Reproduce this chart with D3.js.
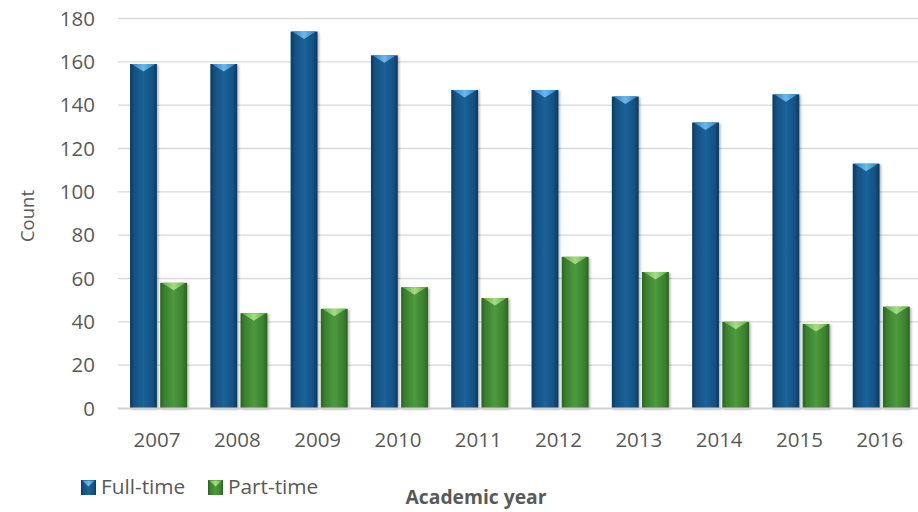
<!DOCTYPE html>
<html><head><meta charset="utf-8">
<script src="https://cdn.jsdelivr.net/npm/d3@7/dist/d3.min.js"></script>
<style>html,body{margin:0;padding:0;background:#fff;}svg{display:block;}</style>
</head><body>
<script>
const years = ["2007","2008","2009","2010","2011","2012","2013","2014","2015","2016"];
const fullTime = [159,159,174,163,147,147,144,132,145,113];
const partTime = [58,44,46,56,51,70,63,40,39,47];
const seriesNames = ["Full-time","Part-time"];
const yTicks = [0,20,40,60,80,100,120,140,160,180];

const W = 918, H = 512;
const svg = d3.select("body").append("svg").attr("width", W).attr("height", H);
const font = "'Open Sans', 'Liberation Sans', sans-serif";
const textCol = "#595959";

const y = d3.scaleLinear().domain([0,180]).range([408.5,18.5]);
const x0 = d3.scaleBand().domain(years).range([118.4,921.4]).paddingInner(0.29).paddingOuter(0.145);
const x1 = d3.scaleBand().domain(seriesNames).range([0, x0.bandwidth()]).paddingInner(0.11);

const defs = svg.append("defs");
function grad(id, stops){
  const g = defs.append("linearGradient").attr("id", id).attr("x1","0").attr("x2","1").attr("y1","0").attr("y2","0");
  stops.forEach(s => g.append("stop").attr("offset", s[0]).attr("stop-color", s[1]));
}
grad("gBlue", [[0,"#0c3a60"],[0.15,"#135080"],[0.5,"#1a6399"],[0.85,"#135080"],[1,"#0c3a60"]]);
grad("gGreen", [[0,"#2a6321"],[0.15,"#3b8030"],[0.5,"#4c9a3c"],[0.85,"#3b8030"],[1,"#2a6321"]]);
grad("gBlueTop", [[0,"#2e7fbf"],[0.5,"#6ab9ea"],[1,"#2e7fbf"]]);
grad("gGreenTop", [[0,"#5fae45"],[0.5,"#a6dc83"],[1,"#5fae45"]]);
const flt = defs.append("filter").attr("id","sh").attr("x","-20%").attr("y","-5%").attr("width","150%").attr("height","115%");
flt.append("feDropShadow").attr("dx",1.5).attr("dy",1).attr("stdDeviation",1.2).attr("flood-color","#000").attr("flood-opacity",0.3);

// gridlines
svg.append("g").selectAll("line").data(yTicks.filter(d=>d>0)).join("line")
  .attr("x1",118).attr("x2",918).attr("y1",d=>y(d)).attr("y2",d=>y(d))
  .attr("stroke","#d9d9d9").attr("stroke-width",1.3);

// y labels
svg.append("g").selectAll("text").data(yTicks).join("text")
  .attr("x",95).attr("y",d=>y(d)).attr("dy","0.35em").attr("text-anchor","end")
  .attr("font-family",font).attr("font-size",20.5).attr("fill",textCol).text(d=>d);

// bars
const data = years.map((yr,i)=>({year:yr, vals:[{s:"Full-time",v:fullTime[i]},{s:"Part-time",v:partTime[i]}]}));
const groups = svg.append("g").selectAll("g").data(data).join("g")
  .attr("transform", d=>`translate(${x0(d.year)},0)`);
const bars = groups.selectAll("g").data(d=>d.vals).join("g");
bars.append("rect")
  .attr("x", d=>x1(d.s)).attr("y", d=>y(d.v)).attr("width", x1.bandwidth()).attr("height", d=>y(0)-y(d.v))
  .attr("fill", d=>d.s==="Full-time"?"url(#gBlue)":"url(#gGreen)")
  .attr("filter","url(#sh)");
bars.append("path")
  .attr("d", d=>{
    const xl = x1(d.s), w = x1.bandwidth(), t = y(d.v);
    return `M${xl+1.5},${t} L${xl+w-1.5},${t} L${xl+w/2},${t+7.5} Z`;
  })
  .attr("fill", d=>d.s==="Full-time"?"url(#gBlueTop)":"url(#gGreenTop)");

// x axis line
svg.append("line").attr("x1",118).attr("x2",918).attr("y1",y(0)).attr("y2",y(0))
  .attr("stroke","#d0d0d0").attr("stroke-width",2);

// x labels
svg.append("g").selectAll("text").data(years).join("text")
  .attr("x", d=>x0(d)+x0.bandwidth()/2 - 1.5).attr("y",440).attr("dy","0.35em").attr("text-anchor","middle")
  .attr("font-family",font).attr("font-size",20.5).attr("fill",textCol).text(d=>d);

// axis titles
svg.append("text").attr("transform","translate(28,216) rotate(-90)").attr("text-anchor","middle").attr("dy","0.35em")
  .attr("font-family",font).attr("font-size",18.5).attr("fill",textCol).text("Count");
svg.append("text").attr("x",476).attr("y",497).attr("text-anchor","middle").attr("dy","0.35em")
  .attr("font-family",font).attr("font-size",19.3).attr("font-weight","bold").attr("fill",textCol).text("Academic year");

// legend
const legX = [81, 208];
const leg = svg.append("g").selectAll("g").data(seriesNames).join("g")
  .attr("transform",(d,i)=>`translate(${legX[i]},480)`);
leg.append("rect").attr("width",15).attr("height",15)
  .attr("fill", d=>d==="Full-time"?"url(#gBlue)":"url(#gGreen)");
leg.append("path").attr("d","M1,0.5 L14,0.5 L7.5,6.5 Z")
  .attr("fill", d=>d==="Full-time"?"url(#gBlueTop)":"url(#gGreenTop)");
leg.append("text").attr("x",20).attr("y",7).attr("dy","0.35em")
  .attr("font-family",font).attr("font-size",20.8).attr("fill",textCol).text(d=>d);
</script>
</body></html>
